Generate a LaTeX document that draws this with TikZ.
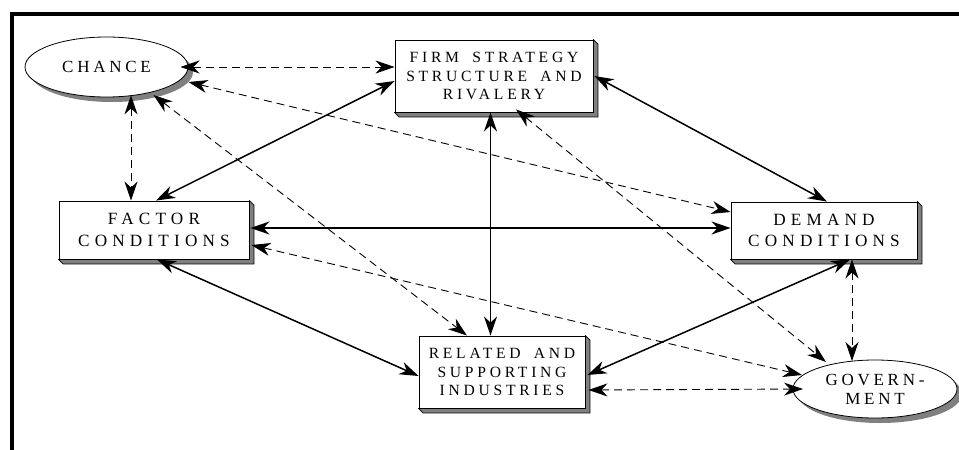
\documentclass[tikz,border=0pt]{standalone}
\usepackage{fontspec}
\setmainfont{Liberation Serif}
\newfontfamily\lsA[LetterSpace=30]{Liberation Serif}
\newfontfamily\lsB[LetterSpace=24]{Liberation Serif}
\newfontfamily\lsC[LetterSpace=22]{Liberation Serif}
\newcommand{\wsp}{\hspace*{0.85em}}
\usetikzlibrary{arrows.meta,shapes.geometric,shadows,calc}
\begin{document}
\begin{tikzpicture}[x=1pt,y=-1pt,
  box/.style={draw, line width=0.9pt, fill=white, rectangle, inner sep=0pt, align=center},
  ell/.style={draw, ellipse, line width=0.8pt, fill=white, inner sep=0pt, align=center,
    general shadow={fill=black!50, shadow xshift=5pt, shadow yshift=-5pt}},
  twoline/.style={font=\lsA\fontsize{17.2}{21.7}\selectfont},
  threeline/.style={font=\lsB\fontsize{15.6}{18.5}\selectfont},
  elltext/.style={font=\lsC\fontsize{17}{19}\selectfont},
  extr/.style={fill=black!50, draw=black, line width=0.6pt},
  tip/.tip={Stealth[length=19pt,width=13pt,inset=6pt]},
  sol/.style={line width=1.5pt, tip-tip},
  dsh/.style={line width=0.9pt, dash pattern=on 8pt off 5pt, tip-tip}
]
\useasboundingbox (0,0) rectangle (959,450);
% frame
\draw[line width=4pt] (11.5,452) -- (11.5,13.5) -- (962,13.5);

% nodes
\node[box, threeline, minimum width=198pt, minimum height=72pt] (firm) at (494,76)
  {FIRM\wsp STRATEGY\\STRUCTURE\wsp AND\\RIVALERY};
\node[box, twoline, minimum width=190pt, minimum height=58pt] (fact) at (154,230)
  {FACTOR\\CONDITIONS};
\node[box, twoline, minimum width=186pt, minimum height=57pt] (dem) at (824,230.5)
  {DEMAND\\CONDITIONS};
\node[box, threeline, minimum width=166pt, minimum height=72pt] (rel) at (502,372)
  {RELATED\wsp AND\\SUPPORTING\\INDUSTRIES};
\node[ell, elltext, minimum width=163pt, minimum height=60pt] (chance) at (106.5,67)
  {CHANCE};
\node[ell, elltext, minimum width=164pt, minimum height=58pt] (gov) at (875,389)
  {GOVERN-\\MENT};

% box extrusions
\foreach \n in {firm,fact,dem,rel}{
  \filldraw[extr] (\n.south west) -- ($(\n.south west)+(4.5,4.5)$) -- ($(\n.south east)+(4.5,4.5)$)
    -- ($(\n.north east)+(4.5,4.5)$) -- (\n.north east) -- (\n.south east) -- cycle;
}

% solid connectors
\draw[sol] ($(fact.north)+(2,0)$) -- ($(firm.west)+(0,5)$);
\draw[sol] ($(firm.south)+(-3.5,0)$) -- ($(rel.north)+(-11.5,0)$);
\draw[sol] ($(firm.east)+(1,0)$) -- ($(dem.north)+(3,0)$);
\draw[sol] ($(fact.east)+(1,-2)$) -- ($(dem.west)+(0,-2.5)$);
\draw[sol] ($(fact.south)+(3,0)$) -- ($(rel.west)+(0,4)$);
\draw[sol] ($(rel.east)+(2,3)$) -- ($(dem.south)+(26,0)$);

% dashed connectors
\draw[dsh] ($(chance.center)+(74,0)$) -- ($(firm.west)+(0,-9)$);
\draw[dsh] ($(chance.south)+(24.5,-2)$) -- ($(fact.north)+(-23,0)$);
\draw[dsh] ($(chance.center)+(82,15)$) -- ($(dem.west)+(0,-18.5)$);
\draw[dsh] ($(chance.center)+(47,28)$) -- ($(rel.north)+(-35,0)$);
\draw[dsh] ($(firm.south)+(22,-3)$) -- ($(gov.center)+(-49,-27)$);
\draw[dsh] ($(fact.east)+(2,15)$) -- ($(gov.center)+(-73,-14)$);
\draw[dsh] ($(dem.south)+(28,0)$) -- ($(gov.center)+(-23,-28)$);
\draw[dsh] ($(rel.east)+(3,18)$) -- ($(gov.center)+(-72,0)$);
\end{tikzpicture}
\end{document}
